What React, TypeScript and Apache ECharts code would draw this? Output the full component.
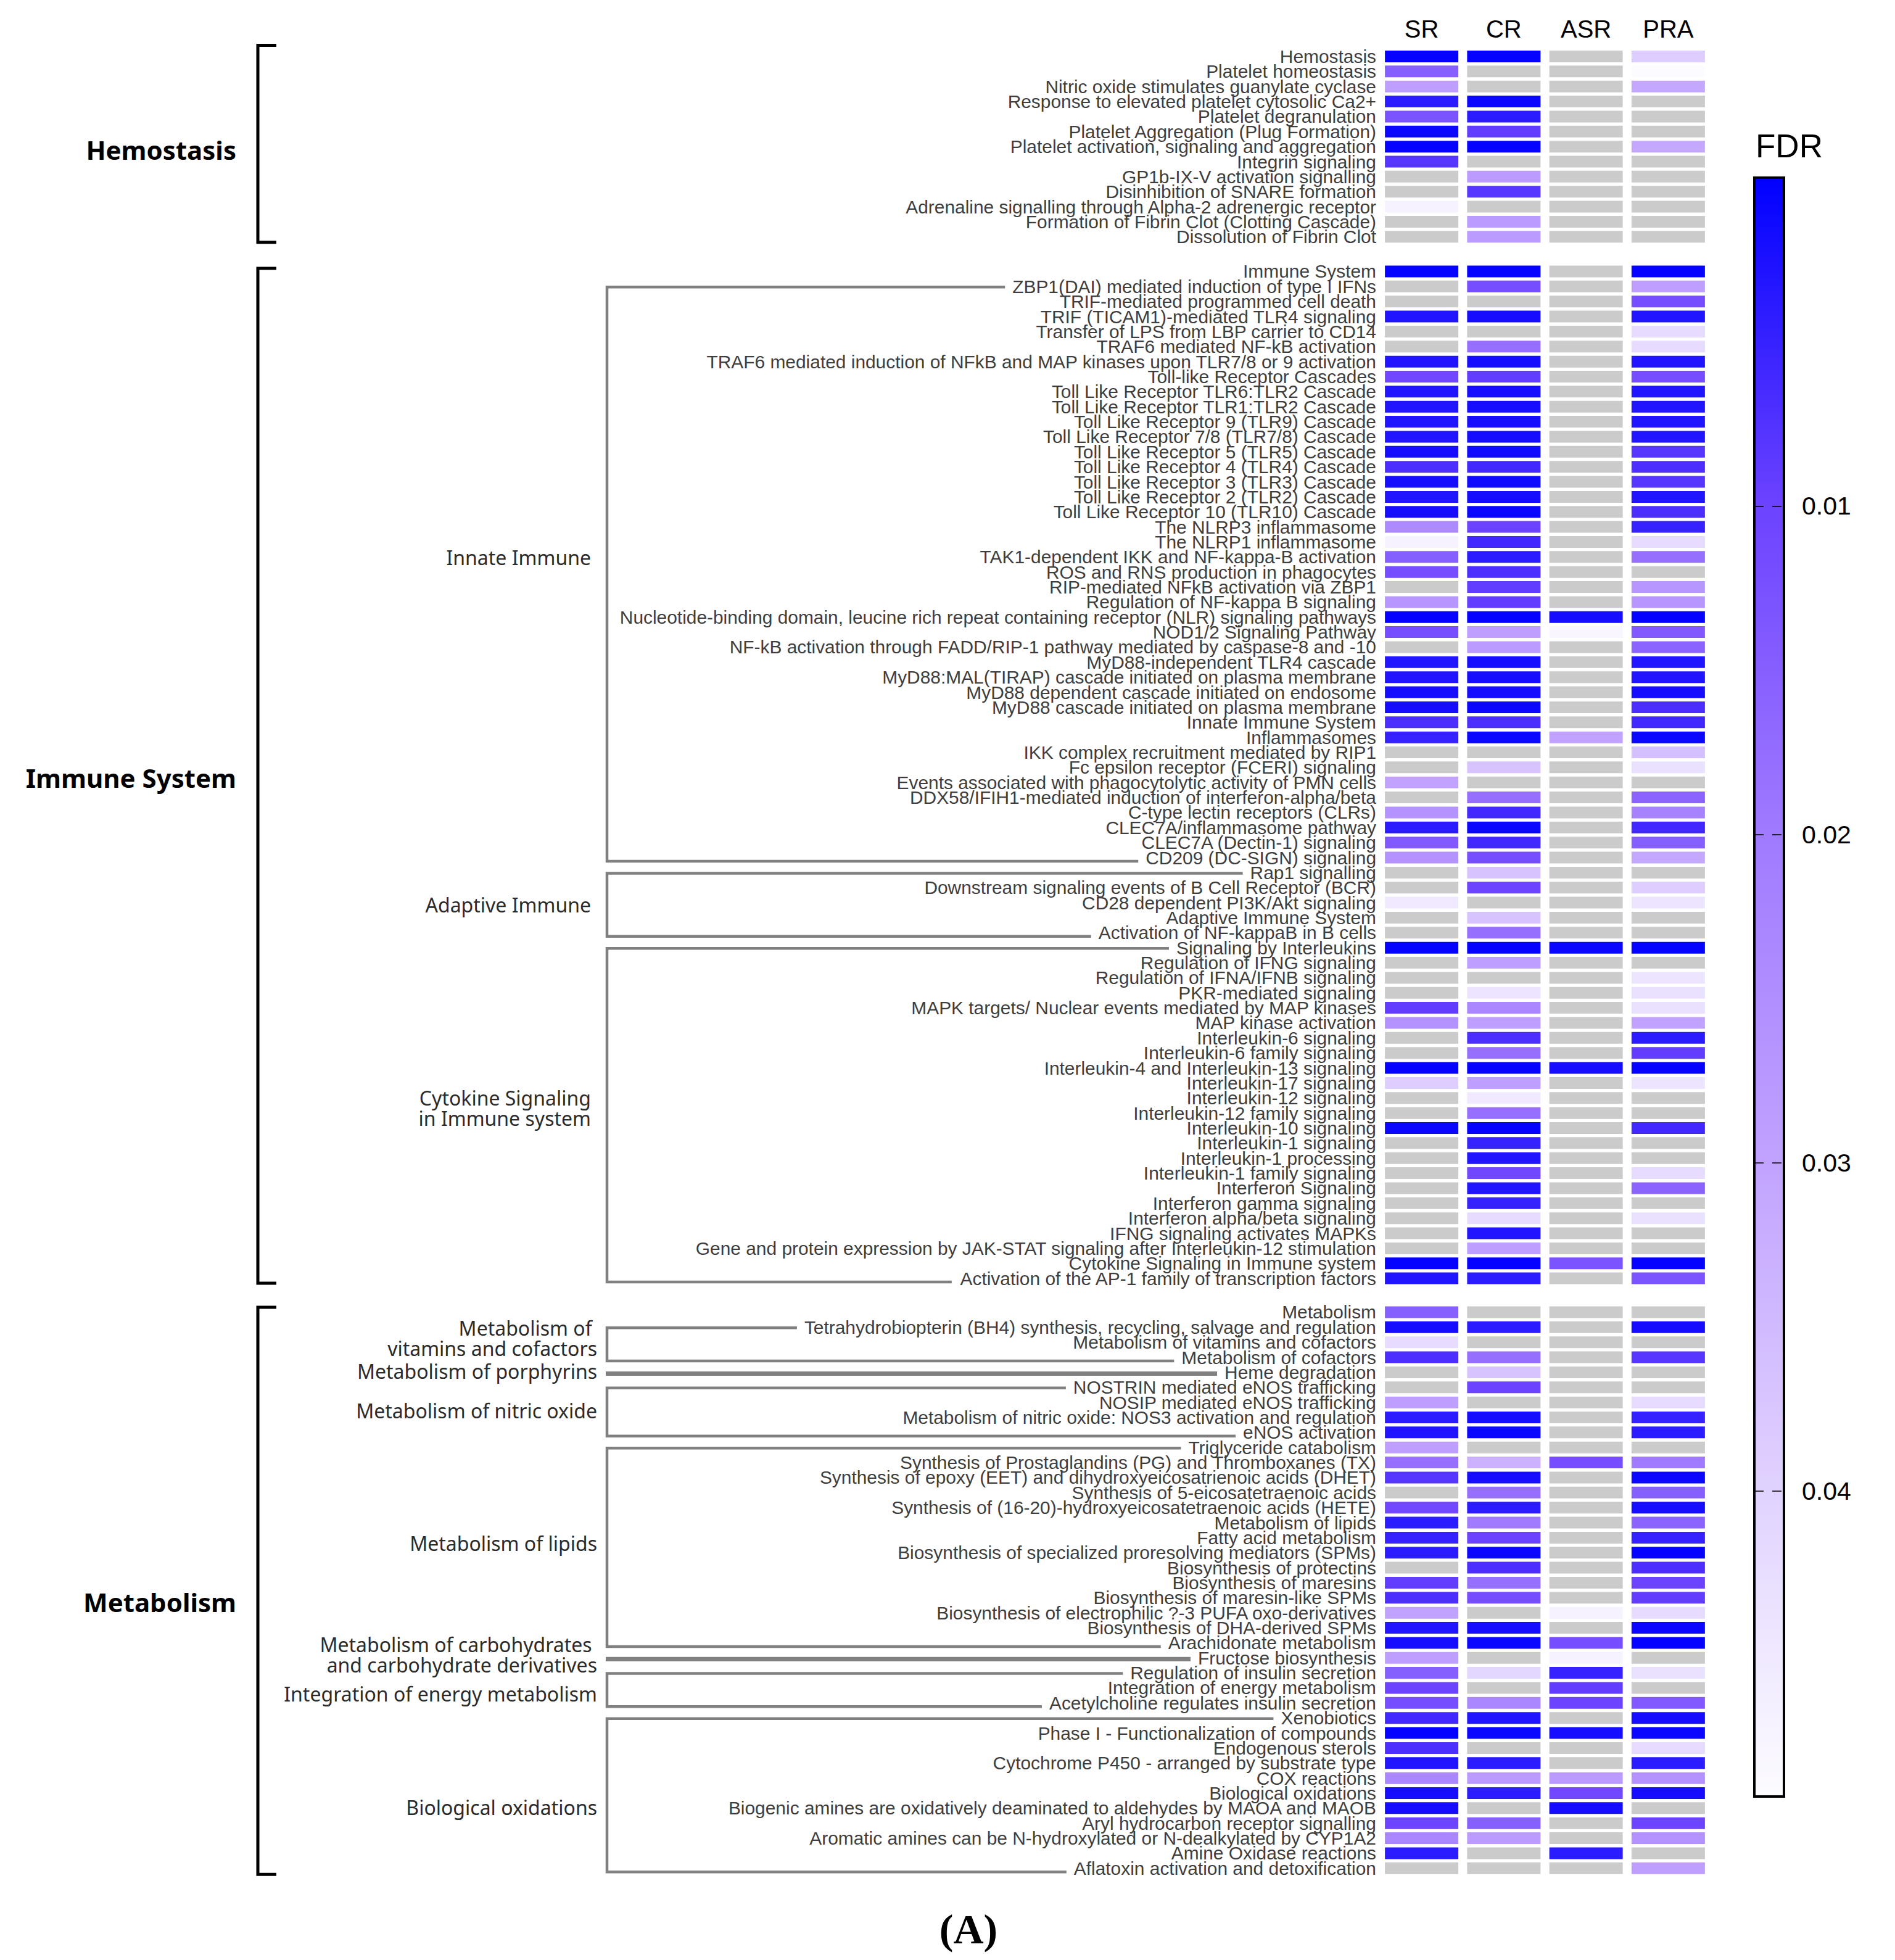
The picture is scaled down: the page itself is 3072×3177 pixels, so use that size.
import { useEffect, useRef } from 'react';
import * as echarts from 'echarts';

const columns = ['SR', 'CR', 'ASR', 'PRA'];

const hemostasisPathways = [
  'Hemostasis',
  'Platelet homeostasis',
  'Nitric oxide stimulates guanylate cyclase',
  'Response to elevated platelet cytosolic Ca2+',
  'Platelet degranulation',
  'Platelet Aggregation (Plug Formation)',
  'Platelet activation, signaling and aggregation',
  'Integrin signaling',
  'GP1b-IX-V activation signalling',
  'Disinhibition of SNARE formation',
  'Adrenaline signalling through Alpha-2 adrenergic receptor',
  'Formation of Fibrin Clot (Clotting Cascade)',
  'Dissolution of Fibrin Clot',
];
// FDR per row: [SR, CR, ASR, PRA]; null = not significant (grey)
const hemostasisFDR = [
  [0.0005, 0.0005, null, 0.039],
  [0.015, null, null, 0.049],
  [0.029, null, null, 0.031],
  [0.004, 0.001, null, null],
  [0.013, 0.004, null, null],
  [0.001, 0.009, null, null],
  [0.0005, 0.0005, null, 0.031],
  [0.008, null, null, null],
  [null, 0.028, null, null],
  [null, 0.008, null, null],
  [0.047, null, null, null],
  [null, 0.028, null, null],
  [null, 0.028, null, null],
];

const immunePathways = [
  'Immune System',
  'ZBP1(DAI) mediated induction of type I IFNs',
  'TRIF-mediated programmed cell death',
  'TRIF (TICAM1)-mediated TLR4 signaling',
  'Transfer of LPS from LBP carrier to CD14',
  'TRAF6 mediated NF-kB activation',
  'TRAF6 mediated induction of NFkB and MAP kinases upon TLR7/8 or 9 activation',
  'Toll-like Receptor Cascades',
  'Toll Like Receptor TLR6:TLR2 Cascade',
  'Toll Like Receptor TLR1:TLR2 Cascade',
  'Toll Like Receptor 9 (TLR9) Cascade',
  'Toll Like Receptor 7/8 (TLR7/8) Cascade',
  'Toll Like Receptor 5 (TLR5) Cascade',
  'Toll Like Receptor 4 (TLR4) Cascade',
  'Toll Like Receptor 3 (TLR3) Cascade',
  'Toll Like Receptor 2 (TLR2) Cascade',
  'Toll Like Receptor 10 (TLR10) Cascade',
  'The NLRP3 inflammasome',
  'The NLRP1 inflammasome',
  'TAK1-dependent IKK and NF-kappa-B activation',
  'ROS and RNS production in phagocytes',
  'RIP-mediated NFkB activation via ZBP1',
  'Regulation of NF-kappa B signaling',
  'Nucleotide-binding domain, leucine rich repeat containing receptor (NLR) signaling pathways',
  'NOD1/2 Signaling Pathway',
  'NF-kB activation through FADD/RIP-1 pathway mediated by caspase-8 and -10',
  'MyD88-independent TLR4 cascade',
  'MyD88:MAL(TIRAP) cascade initiated on plasma membrane',
  'MyD88 dependent cascade initiated on endosome',
  'MyD88 cascade initiated on plasma membrane',
  'Innate Immune System',
  'Inflammasomes',
  'IKK complex recruitment mediated by RIP1',
  'Fc epsilon receptor (FCERI) signaling',
  'Events associated with phagocytolytic activity of PMN cells',
  'DDX58/IFIH1-mediated induction of interferon-alpha/beta',
  'C-type lectin receptors (CLRs)',
  'CLEC7A/inflammasome pathway',
  'CLEC7A (Dectin-1) signaling',
  'CD209 (DC-SIGN) signaling',
  'Rap1 signalling',
  'Downstream signaling events of B Cell Receptor (BCR)',
  'CD28 dependent PI3K/Akt signaling',
  'Adaptive Immune System',
  'Activation of NF-kappaB in B cells',
  'Signaling by Interleukins',
  'Regulation of IFNG signaling',
  'Regulation of IFNA/IFNB signaling',
  'PKR-mediated signaling',
  'MAPK targets/ Nuclear events mediated by MAP kinases',
  'MAP kinase activation',
  'Interleukin-6 signaling',
  'Interleukin-6 family signaling',
  'Interleukin-4 and Interleukin-13 signaling',
  'Interleukin-17 signaling',
  'Interleukin-12 signaling',
  'Interleukin-12 family signaling',
  'Interleukin-10 signaling',
  'Interleukin-1 signaling',
  'Interleukin-1 processing',
  'Interleukin-1 family signaling',
  'Interferon Signaling',
  'Interferon gamma signaling',
  'Interferon alpha/beta signaling',
  'IFNG signaling activates MAPKs',
  'Gene and protein expression by JAK-STAT signaling after Interleukin-12 stimulation',
  'Cytokine Signaling in Immune system',
  'Activation of the AP-1 family of transcription factors',
];
const immuneFDR = [
  [0.0005, 0.0005, null, 0.0005],
  [null, 0.012, null, 0.029],
  [null, null, null, 0.012],
  [0.003, 0.002, null, 0.003],
  [null, null, null, 0.042],
  [null, 0.018, null, 0.042],
  [0.003, 0.002, null, 0.003],
  [0.011, 0.009, null, 0.012],
  [0.003, 0.002, null, 0.003],
  [0.003, 0.002, null, 0.003],
  [0.003, 0.002, null, 0.003],
  [0.003, 0.002, null, 0.003],
  [0.002, 0.0015, null, 0.008],
  [0.007, 0.006, null, 0.007],
  [0.002, 0.0015, null, 0.008],
  [0.003, 0.002, null, 0.003],
  [0.002, 0.001, null, 0.007],
  [0.024, 0.010, null, 0.005],
  [0.047, 0.006, null, 0.042],
  [0.015, 0.004, null, 0.018],
  [0.012, 0.007, null, null],
  [null, 0.009, null, 0.027],
  [0.027, 0.009, null, 0.027],
  [0.0005, 0.0005, 0.002, 0.0005],
  [0.012, 0.029, 0.048, 0.014],
  [null, 0.028, null, 0.016],
  [0.003, 0.002, null, 0.003],
  [0.003, 0.002, null, 0.003],
  [0.002, 0.002, null, 0.002],
  [0.002, 0.001, null, 0.007],
  [0.007, 0.007, null, 0.006],
  [0.005, 0.001, 0.030, 0.001],
  [null, null, null, 0.036],
  [null, 0.037, null, 0.043],
  [0.030, null, null, null],
  [null, 0.018, null, 0.016],
  [0.026, 0.006, null, 0.022],
  [0.004, 0.001, null, 0.006],
  [0.014, 0.006, null, 0.015],
  [0.026, 0.012, null, 0.031],
  [null, 0.037, null, null],
  [null, 0.010, null, 0.039],
  [0.045, null, null, 0.044],
  [null, 0.037, null, null],
  [null, 0.018, null, null],
  [0.0005, 0.0005, 0.001, 0.0005],
  [null, 0.029, null, null],
  [null, null, null, 0.044],
  [null, 0.044, null, 0.043],
  [0.009, 0.023, null, 0.043],
  [0.026, 0.029, null, 0.030],
  [null, 0.007, null, 0.004],
  [null, 0.018, null, 0.009],
  [0.0005, 0.0005, 0.002, 0.0005],
  [0.039, 0.029, null, 0.044],
  [null, 0.045, null, null],
  [null, 0.018, null, null],
  [0.001, 0.0005, null, 0.006],
  [null, 0.005, null, null],
  [null, 0.003, null, null],
  [null, 0.011, null, 0.042],
  [null, 0.003, null, 0.016],
  [null, 0.005, null, null],
  [null, 0.042, null, 0.043],
  [null, 0.003, null, null],
  [null, 0.029, null, null],
  [0.0005, 0.0005, 0.013, 0.0005],
  [0.003, 0.004, null, 0.013],
];

const metabolismPathways = [
  'Metabolism',
  'Tetrahydrobiopterin (BH4) synthesis, recycling, salvage and regulation',
  'Metabolism of vitamins and cofactors',
  'Metabolism of cofactors',
  'Heme degradation',
  'NOSTRIN mediated eNOS trafficking',
  'NOSIP mediated eNOS trafficking',
  'Metabolism of nitric oxide: NOS3 activation and regulation',
  'eNOS activation',
  'Triglyceride catabolism',
  'Synthesis of Prostaglandins (PG) and Thromboxanes (TX)',
  'Synthesis of epoxy (EET) and dihydroxyeicosatrienoic acids (DHET)',
  'Synthesis of 5-eicosatetraenoic acids',
  'Synthesis of (16-20)-hydroxyeicosatetraenoic acids (HETE)',
  'Metabolism of lipids',
  'Fatty acid metabolism',
  'Biosynthesis of specialized proresolving mediators (SPMs)',
  'Biosynthesis of protectins',
  'Biosynthesis of maresins',
  'Biosynthesis of maresin-like SPMs',
  'Biosynthesis of electrophilic ?-3 PUFA oxo-derivatives',
  'Biosynthesis of DHA-derived SPMs',
  'Arachidonate metabolism',
  'Fructose biosynthesis',
  'Regulation of insulin secretion',
  'Integration of energy metabolism',
  'Acetylcholine regulates insulin secretion',
  'Xenobiotics',
  'Phase I - Functionalization of compounds',
  'Endogenous sterols',
  'Cytochrome P450 - arranged by substrate type',
  'COX reactions',
  'Biological oxidations',
  'Biogenic amines are oxidatively deaminated to aldehydes by MAOA and MAOB',
  'Aryl hydrocarbon receptor signalling',
  'Aromatic amines can be N-hydroxylated or N-dealkylated by CYP1A2',
  'Amine Oxidase reactions',
  'Aflatoxin activation and detoxification',
];
const metabolismFDR = [
  [0.015, null, null, null],
  [0.002, 0.004, null, 0.002],
  [0.042, null, null, null],
  [0.007, 0.018, null, 0.008],
  [null, 0.037, null, null],
  [null, 0.010, null, null],
  [0.029, null, null, 0.042],
  [0.004, 0.002, null, 0.005],
  [0.003, 0.001, null, 0.004],
  [0.029, null, null, null],
  [0.018, 0.033, 0.012, 0.020],
  [0.008, 0.002, null, 0.001],
  [null, 0.018, null, 0.015],
  [0.011, 0.004, null, 0.002],
  [0.004, 0.020, null, 0.016],
  [0.005, 0.010, null, 0.005],
  [0.004, 0.001, null, 0.0005],
  [null, 0.007, null, 0.007],
  [0.009, 0.018, null, 0.010],
  [0.007, 0.012, null, 0.009],
  [0.030, null, 0.047, 0.042],
  [0.003, 0.002, null, 0.001],
  [0.002, 0.001, 0.012, 0.0005],
  [0.029, null, 0.047, null],
  [0.015, 0.041, 0.005, 0.043],
  [0.010, null, 0.009, null],
  [0.012, 0.023, 0.010, 0.014],
  [0.006, 0.003, null, 0.002],
  [0.0005, 0.001, 0.002, 0.001],
  [0.007, null, null, 0.042],
  [0.003, 0.004, null, 0.004],
  [0.023, 0.028, 0.028, 0.026],
  [0.002, 0.004, 0.011, 0.002],
  [0.002, null, 0.002, null],
  [0.010, 0.015, null, 0.010],
  [0.023, 0.028, null, 0.026],
  [0.004, null, 0.004, null],
  [null, null, null, 0.029],
];

const immuneSubgroups = [
  { label: 'Innate Immune', from: 1, to: 39 },
  { label: 'Adaptive Immune', from: 40, to: 44 },
  { label: 'Cytokine Signaling\nin Immune system', from: 45, to: 67 },
];
const metabolismSubgroups = [
  { label: 'Metabolism of \nvitamins and cofactors', from: 1, to: 3 },
  { label: 'Metabolism of porphyrins', from: 4, to: 4 },
  { label: 'Metabolism of nitric oxide', from: 5, to: 8 },
  { label: 'Metabolism of lipids', from: 9, to: 22 },
  { label: 'Metabolism of carbohydrates \nand carbohydrate derivatives', from: 23, to: 23 },
  { label: 'Integration of energy metabolism', from: 24, to: 26 },
  { label: 'Biological oxidations', from: 27, to: 37 },
];

const fdrMax = 0.0493;
const fdrInterval = 0.01;
const fdrColors = ['#0000FF', '#6B42FF', '#9F79FF', '#C0A1FF', '#DFD0FF', '#FDFCFF'];
const NA_COLOR = '#CBCBCB';

// ---- layout (pixels) ----
const W = 3072;
const H = 3177;
const ROW = 24.36;
const GRID_LEFT = 2238;
const GRID_WIDTH = 533;
const GROUP_TOPS = [79.3, 427.8, 2114.8];
const LABEL_MARGIN = 7;
const ROW_FONT = 29.9;
const BRACKET_PAD_TOP = [18, 5, 8];
const BRACKET_PAD_BOTTOM = [9, 8, 10];
const BIG_LABEL_DY = [9, 3, 18];
const SUB_LABEL_RIGHT = [0, 958, 968];
const SUB_LABEL_DY = [[], [-27, 0, -12], [-10, -4, -2, -7, -7, 6, 19]];

const groups = [
  { name: 'Hemostasis', rows: hemostasisPathways, fdr: hemostasisFDR, subgroups: [] as any[] },
  { name: 'Immune System', rows: immunePathways, fdr: immuneFDR, subgroups: immuneSubgroups },
  { name: 'Metabolism', rows: metabolismPathways, fdr: metabolismFDR, subgroups: metabolismSubgroups },
];

function renderCell(params: any, api: any) {
  const v = api.value(2);
  const c = api.coord([api.value(0), api.value(1)]);
  const s = api.size([1, 1]);
  const w = s[0] * 0.893;
  const h = s[1] * 0.78;
  return {
    type: 'rect',
    shape: { x: c[0] - w / 2, y: c[1] - h / 2, width: w, height: h },
    style: { fill: v < 0 ? NA_COLOR : api.visual('color') },
  };
}

export default function App() {
  const ref = useRef<HTMLDivElement>(null);

  useEffect(() => {
    document.body.style.margin = '0';
    const el = ref.current!;
    const chart = echarts.init(el, null, { renderer: 'svg' });

    const gradient = {
      type: 'linear', x: 0, y: 0, x2: 0, y2: 1,
      colorStops: fdrColors.map((c, i) => ({ offset: i / (fdrColors.length - 1), color: c })),
    };

    const grids: any[] = groups.map((g, i) => ({
      left: GRID_LEFT, width: GRID_WIDTH, top: GROUP_TOPS[i], height: g.rows.length * ROW,
    }));
    grids.push({
      left: 2844, width: 48, top: 288, height: 2624,
      show: true, backgroundColor: gradient, borderColor: '#000', borderWidth: 4,
    });

    const xAxes: any[] = groups.map((g, i) => ({
      gridIndex: i, type: 'category', data: columns, position: 'top', show: i === 0,
      axisLine: { show: false }, axisTick: { show: false },
      axisLabel: { fontSize: 40, color: '#000', margin: 12, fontFamily: 'Liberation Sans' },
    }));
    xAxes.push({ gridIndex: 3, type: 'category', data: ['FDR'], show: false });

    const yAxes: any[] = groups.map((g, i) => ({
      gridIndex: i, type: 'category', data: g.rows, inverse: true,
      axisLine: { show: false }, axisTick: { show: false }, splitLine: { show: false },
      axisLabel: {
        interval: 0, fontSize: ROW_FONT, color: '#3e3e3e', margin: LABEL_MARGIN,
        fontFamily: 'Liberation Sans', lineHeight: 16, padding: [8, 0, 0, 0],
      },
    }));
    yAxes.push({
      gridIndex: 3, type: 'value', min: 0, max: fdrMax, interval: fdrInterval, inverse: true,
      position: 'right',
      axisLine: { show: false }, axisTick: { show: false },
      axisLabel: {
        margin: 29, fontSize: 41, color: '#000', fontFamily: 'Liberation Sans',
        showMinLabel: false, showMaxLabel: false,
        formatter: (v: number) => (v > 0.001 && v < fdrMax - 0.004 ? v.toFixed(2) : ''),
      },
      splitLine: { show: true, lineStyle: { color: '#000', width: 1.5, type: [15, 14] } },
    });

    const series: any[] = groups.map((g, gi) => ({
      type: 'custom',
      name: g.name,
      coordinateSystem: 'cartesian2d',
      xAxisIndex: gi,
      yAxisIndex: gi,
      dimensions: ['col', 'row', 'fdr'],
      encode: { x: 0, y: 1 },
      renderItem: renderCell,
      data: g.fdr.flatMap((r, ri) => r.map((v, ci) => [ci, ri, v == null ? -1 : v])),
    }));

    chart.setOption({
      animation: false,
      backgroundColor: '#ffffff',
      textStyle: { fontFamily: 'Liberation Sans' },
      grid: grids,
      xAxis: xAxes,
      yAxis: yAxes,
      visualMap: {
        type: 'continuous', show: false, min: 0, max: fdrMax, dimension: 2,
        seriesIndex: [0, 1, 2], inRange: { color: fdrColors },
      },
      series,
    });

    // measure row-label widths to end bracket lines where the text begins
    const ctx = document.createElement('canvas').getContext('2d')!;
    ctx.font = `${ROW_FONT}px "Liberation Sans"`;
    const labelRight = GRID_LEFT - LABEL_MARGIN;
    const textStart = (t: string) => labelRight - ctx.measureText(t).width - 12;
    const yPix = (g: number, i: number) => chart.convertToPixel({ yAxisIndex: g } as any, i) as unknown as number;

    const elements: any[] = [];
    groups.forEach((g, gi) => {
      const top = yPix(gi, 0) - BRACKET_PAD_TOP[gi];
      const bot = yPix(gi, g.rows.length - 1) + BRACKET_PAD_BOTTOM[gi];
      elements.push({
        type: 'polyline', silent: true,
        shape: { points: [[448, top], [418, top], [418, bot], [448, bot]] },
        style: { stroke: '#000', lineWidth: 5, lineJoin: 'miter', fill: null },
      });
      elements.push({
        type: 'text', x: 383, y: (top + bot) / 2 + BIG_LABEL_DY[gi], silent: true,
        style: {
          text: g.name, fontSize: 42, fontWeight: 'bold', fontFamily: '"Noto Sans"',
          fill: '#000', align: 'right', verticalAlign: 'middle',
        },
      });
      g.subgroups.forEach((s: any, si: number) => {
        const vx = 984;
        let yTop: number;
        let yBot: number;
        if (s.from === s.to) {
          const y = yPix(gi, s.from) + 2;
          yTop = y; yBot = y;
          elements.push({
            type: 'line', silent: true,
            shape: { x1: vx - 2, y1: y, x2: textStart(g.rows[s.from]), y2: y },
            style: { stroke: '#808080', lineWidth: 7 },
          });
        } else {
          yTop = yPix(gi, s.from) + 1;
          yBot = yPix(gi, s.to) + 6;
          elements.push({
            type: 'polyline', silent: true,
            shape: {
              points: [
                [textStart(g.rows[s.from]), yTop], [vx, yTop],
                [vx, yBot], [textStart(g.rows[s.to]), yBot],
              ],
            },
            style: { stroke: '#808080', lineWidth: 4.5, lineJoin: 'miter', fill: null },
          });
        }
        elements.push({
          type: 'text', silent: true,
          x: SUB_LABEL_RIGHT[gi], y: (yTop + yBot) / 2 + SUB_LABEL_DY[gi][si],
          style: {
            text: s.label, fontSize: 32, fontFamily: '"Noto Sans"', fill: '#2b2b2b',
            align: 'right', verticalAlign: 'middle', lineHeight: 33,
          },
        });
      });
    });

    elements.push({
      type: 'text', x: 2846, y: 236, silent: true,
      style: { text: 'FDR', fontSize: 53, fontFamily: 'Liberation Sans', fill: '#000', align: 'left', verticalAlign: 'middle' },
    });
    elements.push({
      type: 'text', x: 1570, y: 3127, silent: true,
      style: { text: '(A)', fontSize: 68, fontWeight: 'bold', fontFamily: '"Liberation Serif"', fill: '#000', align: 'center', verticalAlign: 'middle' },
    });

    chart.setOption({ graphic: elements });

    return () => {
      chart.dispose();
    };
  }, []);

  return <div ref={ref} style={{ width: W, height: H }} />;
}
